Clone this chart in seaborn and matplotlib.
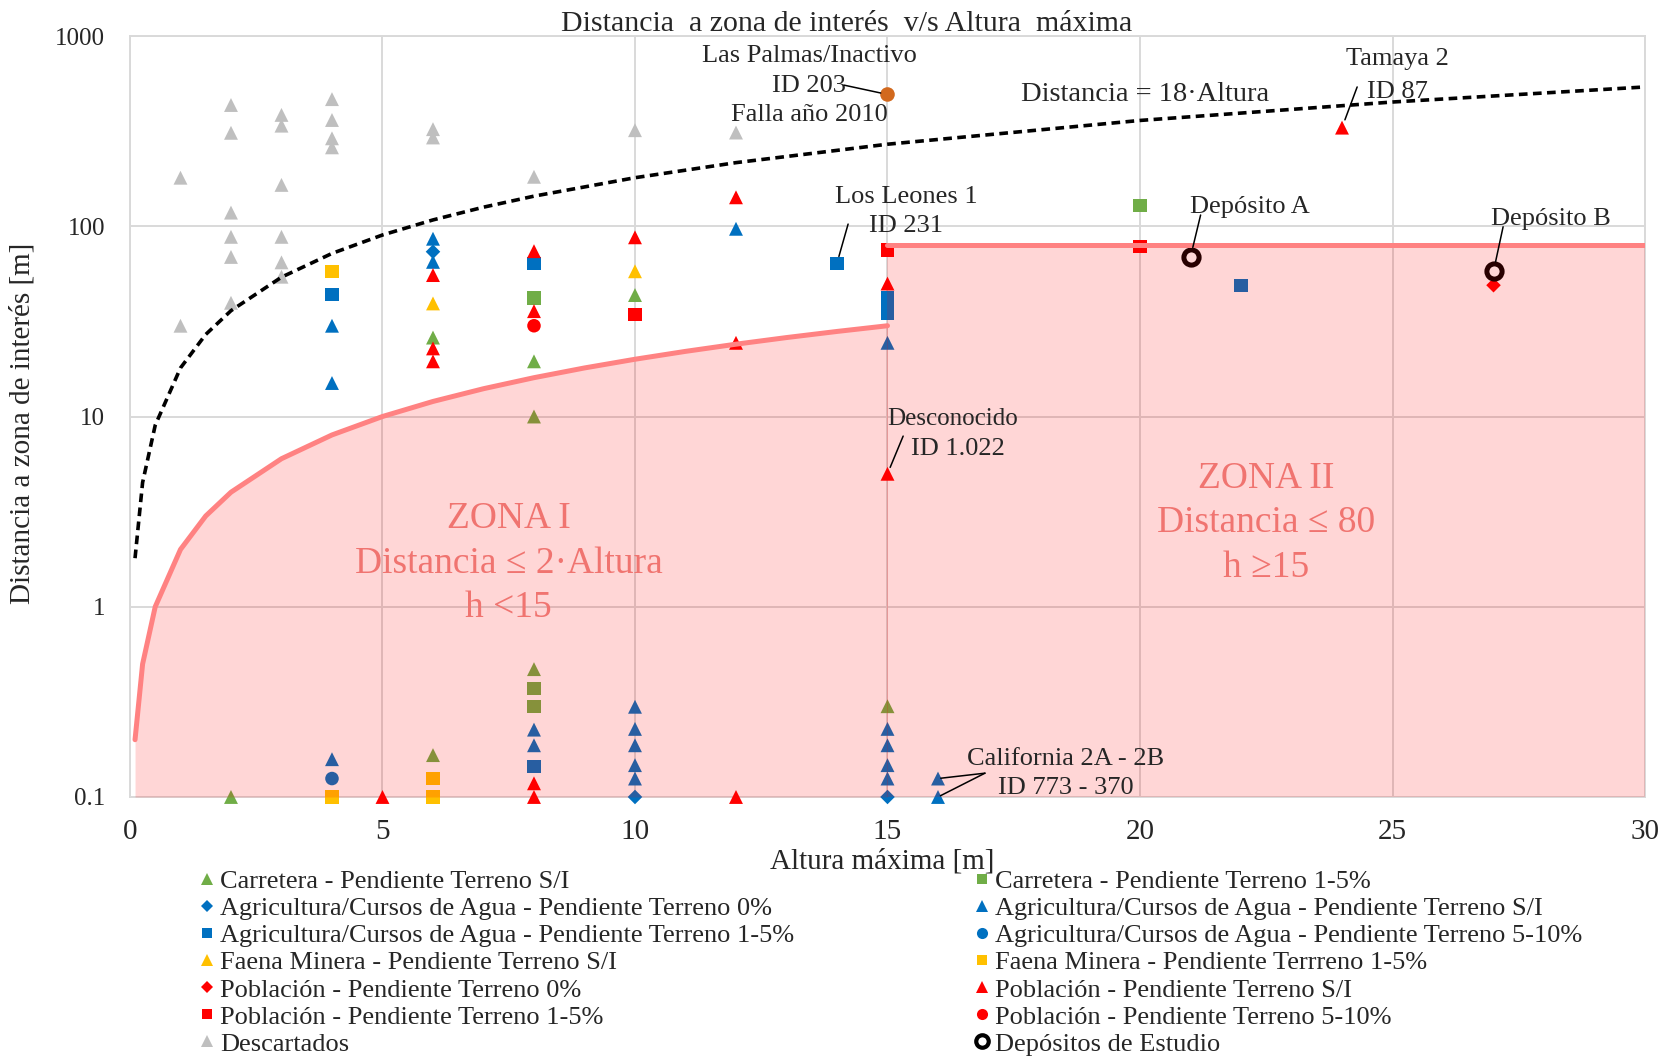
import matplotlib
matplotlib.use("Agg")
import matplotlib.pyplot as plt
from matplotlib.lines import Line2D
from matplotlib.ticker import NullLocator
import seaborn as sns

# ---------------- data ----------------
# Carretera
carretera_si_x = [2, 6, 6, 8, 8, 10, 15, 8]
carretera_si_y = [0.1, 0.166, 26, 19.5, 10, 43.5, 0.3, 0.47]
carretera_15_x = [8, 20, 8, 8]
carretera_15_y = [42, 128, 0.37, 0.3]

# Agricultura / cursos de agua
agri_0_x = [6, 10, 15]
agri_0_y = [73.5, 0.1, 0.1]
agri_si_x = [4, 4, 6, 6, 12, 15, 4, 8, 8, 10, 10, 10, 10, 10, 15, 15, 15, 15, 16, 16]
agri_si_y = [30, 15, 86, 65, 97, 24.4, 0.158, 0.226, 0.187, 0.298, 0.228, 0.187,
             0.147, 0.125, 0.228, 0.187, 0.147, 0.125, 0.125, 0.1]
agri_15_x = [4, 8, 14, 15, 15, 15, 22, 8]
agri_15_y = [44, 64, 64, 42, 38, 35, 49, 0.144]
agri_510_x = [4]
agri_510_y = [0.125]

# Faena minera
faena_si_x = [6, 10]
faena_si_y = [39.3, 58]
faena_15_x = [4, 4, 6, 6]
faena_15_y = [58, 0.1, 0.125, 0.1]

# Población
pob_0_x = [27]
pob_0_y = [49]
pob_si_x = [6, 6, 6, 8, 8, 10, 12, 12, 15, 15, 24, 5, 8, 8, 12]
pob_si_y = [55.4, 22.8, 19.5, 74, 35.8, 87.5, 142, 24.4, 50, 5, 330, 0.1, 0.118, 0.1, 0.1]
pob_15_x = [10, 15, 20]
pob_15_y = [34.5, 75, 78]
pob_510_x = [8]
pob_510_y = [30]

# Descartados
desc_x = [1, 1, 2, 2, 2, 2, 2, 2, 3, 3, 3, 3, 3, 3, 4, 4, 4, 4, 6, 6, 8, 10, 12]
desc_y = [180, 30, 434, 310, 118, 88, 69, 39.6, 385, 338, 165, 88, 64.6, 54.3,
          466, 362, 290, 260, 324, 293, 182, 320, 311]

# Las Palmas / Inactivo (falla año 2010)
palmas_x = [15]
palmas_y = [493]

# Depósitos de estudio (A, B)
depositos_x = [21, 27]
depositos_y = [69, 58]

# Criterios de zonificación
altura_zona1 = [0.1, 0.25, 0.5, 1, 1.5, 2, 3, 4, 5, 6, 7, 8, 9, 10, 11, 12, 13, 14, 15]
altura_18 = [0.1, 0.25, 0.5, 1, 1.5, 2, 3, 4, 5, 6, 7, 8, 10, 12, 15, 20, 25, 30]
factor_zona1 = 2
factor_limite = 18
altura_zona2 = [15, 30]
distancia_zona2 = 80

x_ticks = [0, 5, 10, 15, 20, 25, 30]
y_ticks = [0.1, 1, 10, 100, 1000]
y_tick_labels = ["0.1", "1", "10", "100", "1000"]

# ---------------- style ----------------
sns.set_theme(style="white")
plt.rcParams["font.family"] = ["Liberation Serif", "DejaVu Serif"]
plt.rcParams["mathtext.default"] = "regular"

GREEN = "#70AD47"
BLUE = "#0070C0"
YELLOW = "#FFC000"
RED = "#FF0000"
GRAY = "#BFBFBF"
ORANGE = "#D2691E"
GRID = "#D9D9D9"
ZONE_LINE = "#FF8282"
ZONE_TEXT = "#F07470"

fig = plt.figure(figsize=(16.75, 10.57), dpi=100)
ax = fig.add_axes([0.0776, 0.2460, 0.9045, 0.7199])

MS = 100  # marker area (pt^2)


def pts(x, y, marker, color, s=MS, **kw):
    sns.scatterplot(x=x, y=y, marker=marker, color=color, s=s, linewidth=0,
                    edgecolor="none", ax=ax, zorder=3, clip_on=False, legend=False, **kw)


pts(desc_x, desc_y, "^", GRAY)
pts(carretera_si_x, carretera_si_y, "^", GREEN)
pts(carretera_15_x, carretera_15_y, "s", GREEN, s=90)
pts(agri_15_x, agri_15_y, "s", BLUE, s=90)
pts(agri_si_x, agri_si_y, "^", BLUE)
pts(agri_0_x, agri_0_y, "D", BLUE, s=55)
pts(agri_510_x, agri_510_y, "o", BLUE, s=95)
pts(faena_si_x, faena_si_y, "^", YELLOW)
pts(faena_15_x, faena_15_y, "s", YELLOW, s=90)
pts(pob_15_x, pob_15_y, "s", RED, s=90)
pts(pob_si_x, pob_si_y, "^", RED)
pts(pob_0_x, pob_0_y, "D", RED, s=55)
pts(pob_510_x, pob_510_y, "o", RED, s=95)
pts(palmas_x, palmas_y, "o", ORANGE, s=110)
ax.scatter(depositos_x, depositos_y, marker="o", s=120, facecolor="white",
           edgecolor="#000000", linewidth=3.6, zorder=3)

# Zonas (relleno semitransparente sobre los puntos)
zona1_dist = [factor_zona1 * h for h in altura_zona1]
ax.fill_between(altura_zona1, 0.1, zona1_dist, color=RED, alpha=0.16, linewidth=0, zorder=4)
ax.fill_between(altura_zona2, 0.1, distancia_zona2, color=RED, alpha=0.16, linewidth=0, zorder=4)
sns.lineplot(x=altura_zona1, y=zona1_dist, color=ZONE_LINE, lw=3.6, ax=ax,
             zorder=5, sort=False, estimator=None, solid_capstyle="round")
sns.lineplot(x=altura_zona2, y=[distancia_zona2] * len(altura_zona2), color=ZONE_LINE,
             lw=3.6, ax=ax, zorder=5, sort=False, estimator=None)

# Límite Distancia = 18·Altura
limite = [factor_limite * h for h in altura_18]
ax.plot(altura_18, limite, color="black", lw=2.6, dashes=(2.4, 1.5), zorder=5)

# Ejes
ax.set_yscale("log")
ax.set_xlim(0, 30)
ax.set_ylim(0.1, 1000)
ax.set_xticks(x_ticks)
ax.set_xticklabels([str(t) for t in x_ticks])
ax.set_yticks(y_ticks)
ax.set_yticklabels(y_tick_labels)
ax.yaxis.set_minor_locator(NullLocator())
ax.tick_params(axis="x", length=0, pad=16, labelsize=21)
ax.tick_params(axis="y", length=0, pad=18, labelsize=18)
ax.grid(True, color=GRID, lw=1.4)
ax.set_axisbelow(True)
for sp in ax.spines.values():
    sp.set_color(GRID)
    sp.set_linewidth(1.4)

fig.text(0.5057, 0.977, "Distancia  a zona de interés  v/s Altura  máxima",
         ha="center", va="center", fontsize=21.5)
fig.text(0.5266, 0.1854, "Altura máxima [m]", ha="center", va="center", fontsize=21)
fig.text(0.0137, 0.5995, "Distancia a zona de interés [m]", ha="center", va="center",
         rotation=90, fontsize=21)

# Textos de zonas
ax.text(7.5, 1.69, "ZONA I\nDistancia ≤ 2·Altura\nh <15", ha="center", va="center",
        fontsize=27, color=ZONE_TEXT, zorder=6, linespacing=1.38)
ax.text(22.5, 2.75, "ZONA II\nDistancia ≤ 80\nh ≥15", ha="center", va="center",
        fontsize=27, color=ZONE_TEXT, zorder=6, linespacing=1.38)
ax.text(20.1, 490, "Distancia = 18·Altura", ha="center", va="center", fontsize=20.5, zorder=6)

# Anotaciones
ANN = 19


def leader(start, end, shrink=3):
    ax.annotate("", xy=end, xytext=start,
                arrowprops=dict(arrowstyle="-", color="black", lw=1.1,
                                shrinkA=0, shrinkB=shrink), zorder=6)


ax.text(13.45, 549, "Las Palmas/Inactivo\nID 203\nFalla año 2010", ha="center",
        va="center", fontsize=ANN, linespacing=1.45, zorder=6)
leader((14.14, 552), (palmas_x[0], palmas_y[0]), 5)

ax.text(25.1, 620, "Tamaya 2\nID 87", ha="center", va="center", fontsize=ANN,
        linespacing=1.62, zorder=6)
leader((24.3, 540), (pob_si_x[10], pob_si_y[10]), 6)

ax.text(15.37, 120, "Los Leones 1\nID 231", ha="center", va="center", fontsize=ANN,
        linespacing=1.42, zorder=6)
leader((14.22, 102.7), (agri_15_x[2], agri_15_y[2]), 5)

ax.text(22.18, 126, "Depósito A", ha="center", va="center", fontsize=ANN, zorder=6)
leader((21.2, 114.6), (depositos_x[0], depositos_y[0]), 7)

ax.text(28.14, 109, "Depósito B", ha="center", va="center", fontsize=ANN, zorder=6)
leader((27.19, 99.4), (depositos_x[1], depositos_y[1]), 7)

ax.text(16.28, 9.7, "Desconocido", ha="center", va="center", fontsize=18, zorder=6)
ax.text(16.40, 6.75, "ID 1.022", ha="center", va="center", fontsize=ANN, zorder=6)
leader((15.31, 7.89), (pob_si_x[9], pob_si_y[9]), 5)

ax.text(18.53, 0.133, "California 2A - 2B\nID 773 - 370", ha="center", va="center",
        fontsize=ANN, linespacing=1.45, zorder=6)
leader((16.93, 0.1334), (agri_si_x[18], agri_si_y[18]), 2)
leader((16.93, 0.1334), (agri_si_x[19], agri_si_y[19]), 2)


# Leyenda (dos columnas)
def h(marker, color, ms=8, **kw):
    return Line2D([], [], linestyle="none", marker=marker, color=color,
                  markersize=ms, markeredgewidth=0, **kw)


col1 = [
    (h("^", GREEN), "Carretera - Pendiente Terreno S/I"),
    (h("D", BLUE, 6), "Agricultura/Cursos de Agua - Pendiente Terreno 0%"),
    (h("s", BLUE, 7.5), "Agricultura/Cursos de Agua - Pendiente Terreno 1-5%"),
    (h("^", YELLOW), "Faena Minera - Pendiente Terreno S/I"),
    (h("D", RED, 6), "Población - Pendiente Terreno 0%"),
    (h("s", RED, 7.5), "Población - Pendiente Terreno 1-5%"),
    (h("^", GRAY), "Descartados"),
]
col2 = [
    (h("s", GREEN, 7.5), "Carretera - Pendiente Terreno 1-5%"),
    (h("^", BLUE), "Agricultura/Cursos de Agua - Pendiente Terreno S/I"),
    (h("o", BLUE, 8), "Agricultura/Cursos de Agua - Pendiente Terreno 5-10%"),
    (h("s", YELLOW, 7.5), "Faena Minera - Pendiente Terrreno 1-5%"),
    (h("^", RED), "Población - Pendiente Terreno S/I"),
    (h("o", RED, 8), "Población - Pendiente Terreno 5-10%"),
    (Line2D([], [], linestyle="none", marker="o", markersize=9, markerfacecolor="white",
            markeredgecolor="black", markeredgewidth=3), "Depósitos de Estudio"),
]

for col, x0 in ((col1, 0.1188), (col2, 0.5815)):
    fig.legend([c[0] for c in col], [c[1] for c in col], loc="upper left",
               bbox_to_anchor=(x0, 0.1770), frameon=False, fontsize=19,
               handlelength=0.6, handletextpad=0.2, labelspacing=0.135,
               borderpad=0, borderaxespad=0)

fig.savefig("out.png", dpi=100)
